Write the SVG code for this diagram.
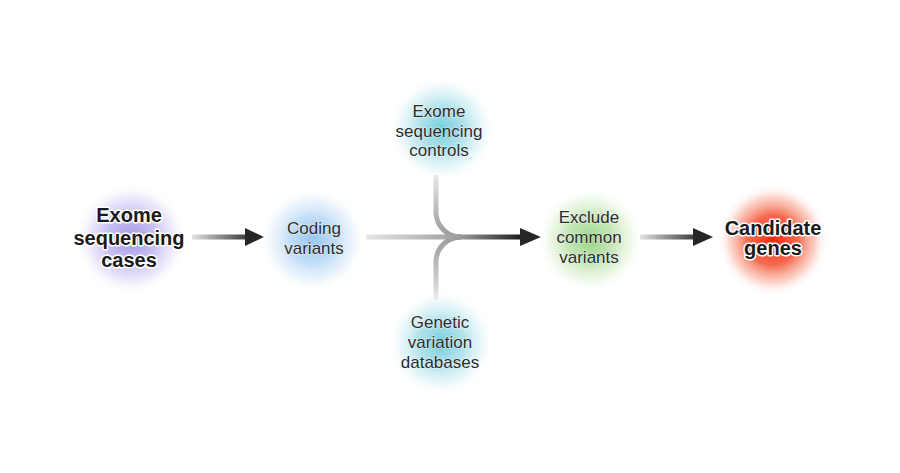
<svg xmlns="http://www.w3.org/2000/svg" width="900" height="473" viewBox="0 0 900 473">
<style>
text{font-family:"Liberation Sans",Arial,sans-serif;text-anchor:middle;fill:#2b2b2b;paint-order:stroke;stroke:#fff;stroke-linejoin:round}
.b{font-weight:bold;font-size:20px;fill:#1a1a1a;stroke-width:3}
.r{font-size:17px;stroke-width:1.2;stroke-opacity:.6}
.head{fill:#262626}
</style>
<defs>
<radialGradient id="gP"><stop offset="0" stop-color="#a496e4"/><stop offset="0.45" stop-color="#bcb1ef" stop-opacity="0.8"/><stop offset="0.75" stop-color="#dad4f6" stop-opacity="0.5"/><stop offset="1" stop-color="#fff" stop-opacity="0"/></radialGradient>
<radialGradient id="gB"><stop offset="0" stop-color="#9ac7f2"/><stop offset="0.45" stop-color="#b4d6f5" stop-opacity="0.8"/><stop offset="0.75" stop-color="#d6e8f9" stop-opacity="0.5"/><stop offset="1" stop-color="#fff" stop-opacity="0"/></radialGradient>
<radialGradient id="gC"><stop offset="0" stop-color="#72cddc"/><stop offset="0.45" stop-color="#a3dde7" stop-opacity="0.8"/><stop offset="0.75" stop-color="#cfeef3" stop-opacity="0.5"/><stop offset="1" stop-color="#fff" stop-opacity="0"/></radialGradient>
<radialGradient id="gG"><stop offset="0" stop-color="#9ad484"/><stop offset="0.45" stop-color="#b8e1a8" stop-opacity="0.8"/><stop offset="0.75" stop-color="#daf0d0" stop-opacity="0.5"/><stop offset="1" stop-color="#fff" stop-opacity="0"/></radialGradient>
<radialGradient id="gR"><stop offset="0" stop-color="#ee2a10"/><stop offset="0.45" stop-color="#f45a3c" stop-opacity="0.9"/><stop offset="0.75" stop-color="#f9a894" stop-opacity="0.55"/><stop offset="1" stop-color="#fff" stop-opacity="0"/></radialGradient>
<linearGradient id="a1" gradientUnits="userSpaceOnUse" x1="192" y1="0" x2="250" y2="0"><stop offset="0" stop-color="#e2e2e2"/><stop offset="1" stop-color="#333"/></linearGradient>
<linearGradient id="a2" gradientUnits="userSpaceOnUse" x1="640" y1="0" x2="698" y2="0"><stop offset="0" stop-color="#e2e2e2"/><stop offset="1" stop-color="#333"/></linearGradient>
<linearGradient id="am" gradientUnits="userSpaceOnUse" x1="366" y1="0" x2="525" y2="0"><stop offset="0" stop-color="#e6e6e6"/><stop offset="0.6" stop-color="#9a9a9a"/><stop offset="1" stop-color="#151515"/></linearGradient>
<linearGradient id="at" gradientUnits="userSpaceOnUse" x1="0" y1="175" x2="0" y2="237"><stop offset="0" stop-color="#e8e8e8"/><stop offset="1" stop-color="#9a9a9a"/></linearGradient>
<linearGradient id="ab" gradientUnits="userSpaceOnUse" x1="0" y1="300" x2="0" y2="237"><stop offset="0" stop-color="#e8e8e8"/><stop offset="1" stop-color="#9a9a9a"/></linearGradient>
</defs>
<rect width="900" height="473" fill="#fff"/>
<g id="connectors" fill="none" stroke-width="5">
<path d="M192 237H248" stroke="url(#a1)"/>
<polygon class="head" stroke="none" points="245,228 264,237 245,246"/>
<path d="M436 175V212A25 25 0 0 0 461 237" stroke="url(#at)"/>
<path d="M436 300V262A25 25 0 0 1 461 237" stroke="url(#ab)"/>
<path d="M366 237H524" stroke="url(#am)"/>
<polygon class="head" stroke="none" points="520,228 541,237 520,246"/>
<path d="M640 237H696" stroke="url(#a2)"/>
<polygon class="head" stroke="none" points="693,228 713,237 693,246"/>
</g>
<g id="node-cases"><circle cx="131" cy="239" r="56" fill="url(#gP)"/><text class="b"><tspan x="129" y="222">Exome</tspan><tspan x="129" y="245">sequencing</tspan><tspan x="129" y="267">cases</tspan></text></g>
<g id="node-coding"><circle cx="313" cy="240" r="53" fill="url(#gB)"/><text class="r"><tspan x="314" y="234">Coding</tspan><tspan x="314" y="254">variants</tspan></text></g>
<g id="node-controls"><circle cx="442" cy="129" r="53" fill="url(#gC)"/><text class="r"><tspan x="439" y="117">Exome</tspan><tspan x="439" y="137">sequencing</tspan><tspan x="439" y="156">controls</tspan></text></g>
<g id="node-databases"><circle cx="441" cy="343" r="53" fill="url(#gC)"/><text class="r"><tspan x="440" y="328">Genetic</tspan><tspan x="440" y="348">variation</tspan><tspan x="440" y="368">databases</tspan></text></g>
<g id="node-exclude"><circle cx="590" cy="240" r="53" fill="url(#gG)"/><text class="r"><tspan x="589" y="223">Exclude</tspan><tspan x="589" y="243">common</tspan><tspan x="589" y="263">variants</tspan></text></g>
<g id="node-candidate"><circle cx="773" cy="240" r="56" fill="url(#gR)"/><text class="b"><tspan x="773" y="235">Candidate</tspan><tspan x="773" y="255">genes</tspan></text></g>
</svg>
